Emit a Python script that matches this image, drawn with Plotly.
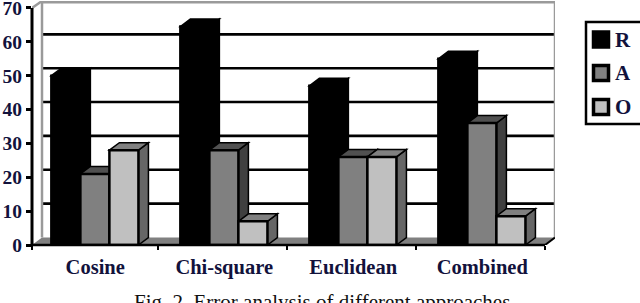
import plotly.graph_objects as go

categories = ["Cosine", "Chi-square", "Euclidean", "Combined"]
series_names = ["R", "A", "O"]
r_values = [50, 64.5, 47, 55]
a_values = [21, 28, 26, 36]
o_values = [28, 7, 26, 8.5]
y_ticks = [0, 10, 20, 30, 40, 50, 60, 70]

W, H = 640, 303
L, R_M, T, B = 32, 85, 1, 58
PW, PH = W - L - R_M, H - T - B
PX_X = 129.0
PX_Y = 3.386
XMAX = PW / PX_X
YMAX = PH / PX_Y
DX = 10 / PX_X
DY = 7.5 / PX_Y
BW = 0.225
START = 0.15

front = {"R": "#000000", "A": "#808080", "O": "#c0c0c0"}
side = {"R": "#000000", "A": "#404040", "O": "#666666"}
top = {"R": "#000000", "A": "#505050", "O": "#808080"}
series = {"R": r_values, "A": a_values, "O": o_values}
serif = "Liberation Serif"
ink = "#12123c"


def px(x):
    return (x - L) / PW


def py(y):
    return 1 - (y - T) / PH


def poly(pts, fill, line="#000000", width=1.5, layer="below"):
    d = "M " + " L ".join(f"{x},{y}" for x, y in pts) + " Z"
    return dict(type="path", path=d, fillcolor=fill, layer=layer,
                line=dict(color=line, width=width), xref="x", yref="y")


shapes = []
shapes.append(poly([(0, 0), (XMAX - DX, 0), (XMAX, DY), (DX, DY)], "#808080", "#808080", 0))
for v in y_ticks[1:-1]:
    shapes.append(dict(type="line", x0=DX, x1=XMAX, y0=v + DY, y1=v + DY, layer="below",
                       xref="x", yref="y", line=dict(color="#000000", width=2.6)))
gray = dict(color="#9a9a9a", width=2.5)
for a, b, c, d in [(DX, DY, DX, YMAX), (XMAX, DY, XMAX, YMAX), (DX, YMAX - 0.4, XMAX, YMAX - 0.4), (0, 70, DX, YMAX)]:
    shapes.append(dict(type="line", x0=a, y0=b, x1=c, y1=d, layer="below", xref="x", yref="y", line=gray))
shapes.append(dict(type="line", x0=XMAX - DX, y0=0, x1=XMAX, y1=DY, layer="below", xref="x", yref="y",
                   line=dict(color="#000000", width=2)))
# axis lines, left unclipped by the plot area
shapes.append(dict(type="line", x0=0, y0=-0.6, x1=0, y1=70, layer="above", xref="paper", yref="y",
                   line=dict(color="#000000", width=3)))
shapes.append(dict(type="line", x0=0, y0=0, x1=XMAX - DX, y1=0, layer="above", xref="x", yref="paper",
                   line=dict(color="#000000", width=2.5)))
shapes.append(dict(type="line", x0=0, y0=0, x1=0, y1=-5 / PH, layer="above", xref="paper", yref="paper",
                   line=dict(color="#000000", width=2)))

fig = go.Figure()
for si, name in enumerate(series_names):
    xs = [i + START + BW * si + BW / 2 for i in range(4)]
    for i, v in enumerate(series[name]):
        x0 = i + START + BW * si
        x1 = x0 + BW
        shapes.append(poly([(x1, 0), (x1 + DX, DY), (x1 + DX, v + DY), (x1, v)], side[name]))
        shapes.append(poly([(x0, v), (x0 + DX, v + DY), (x1 + DX, v + DY), (x1, v)], top[name]))
    fig.add_trace(go.Bar(x=xs, y=series[name], width=BW, name=name, showlegend=False,
                         marker=dict(color=front[name], line=dict(color="#000000", width=2.5))))

# legend box, swatches and letters
shapes.append(dict(type="rect", xref="paper", yref="paper", x0=px(586), x1=px(645), y0=py(124), y1=py(22),
                   line=dict(color="#000000", width=2.5), fillcolor="white", layer="above"))
legend_rows = [39.5, 73, 107]
for name, yc in zip(series_names, legend_rows):
    shapes.append(dict(type="rect", xref="paper", yref="paper", x0=px(593.5), x1=px(608.5),
                       y0=py(yc + 7.5), y1=py(yc - 7.5), layer="above", fillcolor=front[name],
                       line=dict(color="#000000", width=3.5)))
    fig.add_annotation(text=name, xref="paper", yref="paper", x=px(613), y=py(yc), xanchor="left",
                       yanchor="middle", showarrow=False, xshift=0,
                       font=dict(family=serif, size=21, color=ink, weight="bold"))

fig.add_annotation(text="Fig. 2. Error analysis of different approaches", xref="paper", yref="paper",
                   x=px(322), y=-57 / PH, yanchor="middle",
                   showarrow=False, font=dict(family=serif, size=21, color="#111111"))

fig.update_layout(
    width=W, height=H, autosize=False, margin=dict(l=L, r=R_M, t=T, b=B, pad=0, autoexpand=False),
    paper_bgcolor="white", plot_bgcolor="white", barmode="overlay", shapes=shapes, showlegend=False,
    xaxis=dict(range=[0, XMAX], showgrid=False, zeroline=False, showline=False,
               tickmode="array", tickvals=[0.49, 1.49, 2.49, 3.49], ticktext=categories, ticks="",
               ticklabelstandoff=7,
               tickfont=dict(family=serif, size=20.5, color=ink, weight="bold"),
               minor=dict(ticks="outside", tick0=-0.02, dtick=1, ticklen=4, tickwidth=2, tickcolor="#000000")),
    yaxis=dict(range=[0, YMAX], showgrid=False, zeroline=False, showline=False,
               tickmode="array", tickvals=y_ticks, ticks="outside", ticklen=5, tickwidth=2.5,
               ticklabeloverflow="allow",
               tickcolor="#000000", tickfont=dict(family=serif, size=19.5, color=ink, weight="bold")),
)
fig.write_html("out.html", post_script="document.body.style.margin='0';",
               config={"displayModeBar": False})
